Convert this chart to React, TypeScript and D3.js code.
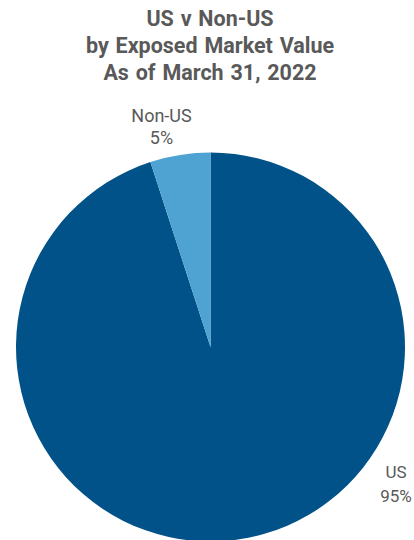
import React from "react";
import * as d3 from "d3";

const categories = ["US", "Non-US"];
const values = [95, 5];
const colors = ["#015288", "#4fa3d2"];
const titleLines = ["US v Non-US", "by Exposed Market Value", "As of March 31, 2022"];

export default function App() {
  const width = 414;
  const height = 540;
  const cx = 210.5;
  const cy = 347;
  const r = 194.5;

  const pie = d3
    .pie<number>()
    .sort(null)
    .startAngle(0)
    .endAngle(2 * Math.PI)(values);
  const arc = d3.arc<d3.PieArcDatum<number>>().innerRadius(0).outerRadius(r);

  const labelPos = [
    { x: 396, y1: 478, y2: 502, size: 17 },
    { x: 161.5, y1: 122, y2: 144, size: 18 },
  ];

  return (
    <svg
      width={width}
      height={height}
      style={{ position: "absolute", left: 0, top: 0 }}
      fontFamily="Roboto, sans-serif"
    >
      {titleLines.map((t, i) => (
        <text
          key={i}
          x={210}
          y={25.5 + i * 27}
          textAnchor="middle"
          fontSize={21.5}
          fontWeight="bold"
          fill="#595959"
          style={{ wordSpacing: "1.5px" }}
        >
          {t}
        </text>
      ))}
      <g transform={`translate(${cx},${cy})`}>
        {pie.map((d, i) => (
          <path key={i} d={arc(d) || ""} fill={colors[i]} />
        ))}
      </g>
      {categories.map((c, i) => (
        <g key={c} fill="#595959" fontSize={labelPos[i].size} textAnchor="middle">
          <text x={labelPos[i].x} y={labelPos[i].y1}>
            {c}
          </text>
          <text x={labelPos[i].x} y={labelPos[i].y2}>
            {values[i]}%
          </text>
        </g>
      ))}
    </svg>
  );
}
